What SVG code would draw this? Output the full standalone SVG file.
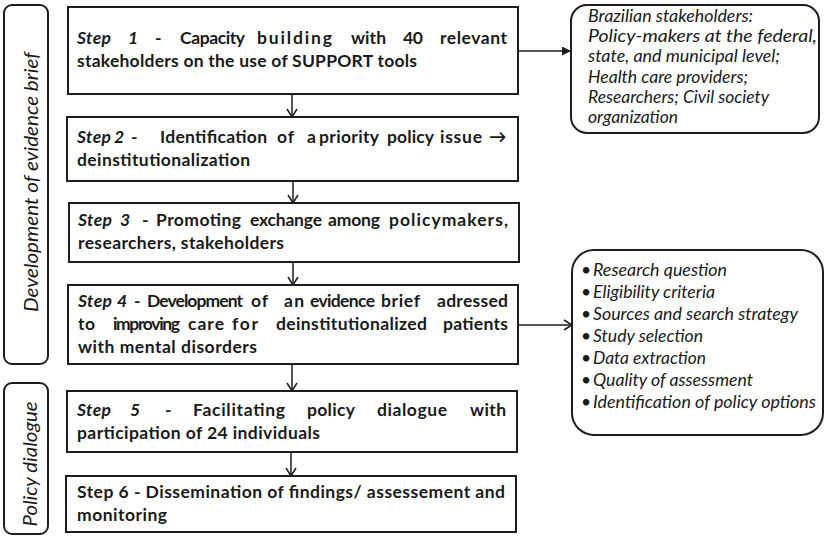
<svg xmlns="http://www.w3.org/2000/svg" width="829" height="538" viewBox="0 0 829 538">
<defs>
<style>
.box{fill:#fff;stroke:#1e1e1e;stroke-width:2}
.rbox{fill:#fff;stroke:#1e1e1e;stroke-width:2}
.st{font-family:Lato,"Liberation Sans",sans-serif;font-weight:bold;font-size:17.5px;fill:#1a1a1a}
.it{font-style:italic}
.side{font-family:Lato,"Liberation Sans",sans-serif;font-style:italic;font-size:16.5px;fill:#1a1a1a}
.lab{font-family:Lato,"Liberation Sans",sans-serif;font-style:italic;font-size:19px;fill:#1a1a1a}
.con{stroke:#1e1e1e;stroke-width:1.5;fill:none}
</style>
<marker id="open" viewBox="0 0 10 12" refX="9" refY="6" markerWidth="10" markerHeight="12" markerUnits="userSpaceOnUse" orient="auto">
<path d="M1,1 L9,6 L1,11" fill="none" stroke="#1e1e1e" stroke-width="1.5"/>
</marker>
<marker id="fill" viewBox="0 0 10 10" refX="10" refY="5" markerWidth="10" markerHeight="9" markerUnits="userSpaceOnUse" orient="auto">
<path d="M0,0 L10,5 L0,10 Z" fill="#1e1e1e"/>
</marker>
</defs>
<rect width="829" height="538" fill="#fff"/>

<g id="label-development">
<rect class="rbox" x="4" y="5" width="44" height="359" rx="8"/>
<text class="lab" transform="translate(38,182) rotate(-90)" text-anchor="middle" textLength="260" lengthAdjust="spacingAndGlyphs">Development of evidence brief</text>
</g>
<g id="label-policy">
<rect class="rbox" x="4" y="383" width="44" height="151" rx="8"/>
<text class="lab" transform="translate(37,464) rotate(-90)" text-anchor="middle" textLength="125" lengthAdjust="spacingAndGlyphs">Policy dialogue</text>
</g>

<g id="step1">
<rect class="box" x="68" y="7" width="450" height="87"/>
<text class="st" y="44"><tspan class="it" x="77" textLength="34" lengthAdjust="spacing">Step</tspan><tspan class="it" x="128">1</tspan><tspan x="155">-</tspan><tspan x="180" textLength="65" lengthAdjust="spacing">Capacity</tspan><tspan x="257" textLength="75" lengthAdjust="spacing">building</tspan><tspan x="351" textLength="35" lengthAdjust="spacing">with</tspan><tspan x="403" textLength="20" lengthAdjust="spacing">40</tspan><tspan x="440" textLength="67" lengthAdjust="spacing">relevant</tspan></text>
<text class="st" x="77" y="67" textLength="340" lengthAdjust="spacing">stakeholders on the use of SUPPORT tools</text>
</g>
<g id="step2">
<rect class="box" x="67" y="117" width="451" height="64"/>
<text class="st" y="143"><tspan class="it" x="77" textLength="34" lengthAdjust="spacing">Step</tspan><tspan class="it" x="114">2</tspan><tspan x="131">-</tspan><tspan x="160" textLength="107" lengthAdjust="spacing">Identification</tspan><tspan x="277" textLength="17" lengthAdjust="spacing">of</tspan><tspan x="307">a</tspan><tspan x="319" textLength="60" lengthAdjust="spacing">priority</tspan><tspan x="387" textLength="47" lengthAdjust="spacing">policy</tspan><tspan x="440" textLength="42" lengthAdjust="spacing">issue</tspan><tspan x="489">→</tspan></text>
<text class="st" x="77" y="166" textLength="173" lengthAdjust="spacing">deinstitutionalization</text>
</g>
<g id="step3">
<rect class="box" x="69" y="203" width="450" height="59"/>
<text class="st" y="226"><tspan class="it" x="78" textLength="34" lengthAdjust="spacing">Step</tspan><tspan class="it" x="120">3</tspan><tspan x="142">-</tspan><tspan x="156" textLength="85" lengthAdjust="spacing">Promoting</tspan><tspan x="250" textLength="72" lengthAdjust="spacing">exchange</tspan><tspan x="328" textLength="52" lengthAdjust="spacing">among</tspan><tspan x="389" textLength="119" lengthAdjust="spacing">policymakers,</tspan></text>
<text class="st" x="78" y="249" textLength="206" lengthAdjust="spacing">researchers, stakeholders</text>
</g>
<g id="step4">
<rect class="box" x="68" y="285" width="450" height="79"/>
<text class="st" y="307"><tspan class="it" x="78" textLength="34" lengthAdjust="spacing">Step</tspan><tspan class="it" x="117">4</tspan><tspan x="134">-</tspan><tspan x="147" textLength="96" lengthAdjust="spacing">Development</tspan><tspan x="251" textLength="17" lengthAdjust="spacing">of</tspan><tspan x="284" textLength="20" lengthAdjust="spacing">an</tspan><tspan x="310" textLength="65" lengthAdjust="spacing">evidence</tspan><tspan x="381" textLength="39" lengthAdjust="spacing">brief</tspan><tspan x="437" textLength="71" lengthAdjust="spacing">adressed</tspan></text>
<text class="st" y="330"><tspan x="78" textLength="17" lengthAdjust="spacing">to</tspan><tspan x="113" textLength="67" lengthAdjust="spacing">improving</tspan><tspan x="188" textLength="36" lengthAdjust="spacing">care</tspan><tspan x="232" textLength="26" lengthAdjust="spacing">for</tspan><tspan x="276" textLength="151" lengthAdjust="spacing">deinstitutionalized</tspan><tspan x="443" textLength="65" lengthAdjust="spacing">patients</tspan></text>
<text class="st" x="78" y="353" textLength="179" lengthAdjust="spacing">with mental disorders</text>
</g>
<g id="step5">
<rect class="box" x="67" y="391" width="450" height="61"/>
<text class="st" y="416"><tspan class="it" x="77" textLength="34" lengthAdjust="spacing">Step</tspan><tspan class="it" x="130">5</tspan><tspan x="165">-</tspan><tspan x="193" textLength="92" lengthAdjust="spacing">Facilitating</tspan><tspan x="307" textLength="48" lengthAdjust="spacing">policy</tspan><tspan x="377" textLength="70" lengthAdjust="spacing">dialogue</tspan><tspan x="470" textLength="36" lengthAdjust="spacing">with</tspan></text>
<text class="st" x="77" y="439" textLength="243" lengthAdjust="spacing">participation of 24 individuals</text>
</g>
<g id="step6">
<rect class="box" x="66" y="476" width="450" height="56"/>
<text class="st" x="77" y="498" textLength="428" lengthAdjust="spacing">Step 6 - Dissemination of findings/ assessement and</text>
<text class="st" x="77" y="521" textLength="90" lengthAdjust="spacing">monitoring</text>
</g>

<g id="stakeholders">
<rect class="rbox" x="571" y="5" width="248" height="128" rx="16"/>
<text class="side" x="588" y="21.5" textLength="165" lengthAdjust="spacingAndGlyphs">Brazilian stakeholders:</text>
<text class="side" x="588" y="42" textLength="229" lengthAdjust="spacingAndGlyphs">Policy-makers at the federal,</text>
<text class="side" x="588" y="62" textLength="192" lengthAdjust="spacingAndGlyphs">state, and municipal level;</text>
<text class="side" x="588" y="82.5" textLength="160" lengthAdjust="spacingAndGlyphs">Health care providers;</text>
<text class="side" x="588" y="103" textLength="181" lengthAdjust="spacingAndGlyphs">Researchers; Civil society</text>
<text class="side" x="588" y="123" textLength="90" lengthAdjust="spacingAndGlyphs">organization</text>
</g>

<g id="brief-contents">
<rect class="rbox" x="572" y="250" width="251" height="185" rx="22"/>
<g class="side" style="font-size:17.5px">
<text x="581" y="276" style="font-style:normal">•</text>
<text x="593" y="276" textLength="134" lengthAdjust="spacingAndGlyphs">Research question</text>
<text x="581" y="298" style="font-style:normal">•</text>
<text x="593" y="298" textLength="122" lengthAdjust="spacingAndGlyphs">Eligibility criteria</text>
<text x="581" y="320" style="font-style:normal">•</text>
<text x="593" y="320" textLength="205" lengthAdjust="spacingAndGlyphs">Sources and search strategy</text>
<text x="581" y="342" style="font-style:normal">•</text>
<text x="593" y="342" textLength="110" lengthAdjust="spacingAndGlyphs">Study selection</text>
<text x="581" y="364" style="font-style:normal">•</text>
<text x="593" y="364" textLength="113" lengthAdjust="spacingAndGlyphs">Data extraction</text>
<text x="581" y="386" style="font-style:normal">•</text>
<text x="593" y="386" textLength="160" lengthAdjust="spacingAndGlyphs">Quality of assessment</text>
<text x="581" y="408" style="font-style:normal">•</text>
<text x="593" y="408" textLength="223" lengthAdjust="spacingAndGlyphs">Identification of policy options</text>
</g>
</g>

<g id="connectors">
<line class="con" x1="292" y1="94" x2="292" y2="117" marker-end="url(#open)"/>
<line class="con" x1="293" y1="181" x2="293" y2="203" marker-end="url(#open)"/>
<line class="con" x1="293" y1="262" x2="293" y2="285" marker-end="url(#open)"/>
<line class="con" x1="292" y1="364" x2="292" y2="391" marker-end="url(#open)"/>
<line class="con" x1="291" y1="452" x2="291" y2="476" marker-end="url(#open)"/>
<line class="con" x1="518" y1="51" x2="571" y2="51" marker-end="url(#fill)"/>
<line class="con" x1="518" y1="325" x2="572" y2="325" marker-end="url(#open)"/>
</g>
</svg>
